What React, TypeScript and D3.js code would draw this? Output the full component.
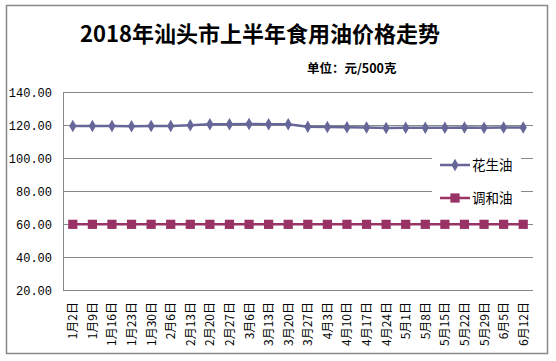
import { scaleBand, scaleLinear, line, symbol, symbolDiamond, symbolSquare } from 'd3';

const width = 556
const height = 361
const margin = { top: 92, right: 23, bottom: 71, left: 63 }

const dates = [
  '1月2日', '1月9日', '1月16日', '1月23日', '1月30日', '2月6日', '2月13日', '2月20日',
  '2月27日', '3月6日', '3月13日', '3月20日', '3月27日', '4月3日', '4月10日', '4月17日',
  '4月24日', '5月1日', '5月8日', '5月15日', '5月22日', '5月29日', '6月5日', '6月12日',
]
const peanutOil = [
  119.4, 119.4, 119.4, 119.3, 119.4, 119.4, 119.9, 120.5,
  120.4, 120.6, 120.5, 120.5, 118.9, 118.8, 118.6, 118.5,
  118.2, 118.3, 118.3, 118.4, 118.5, 118.3, 118.5, 118.5,
]
const blendOil = [
  59.8, 59.8, 59.8, 59.8, 59.8, 59.8, 59.8, 59.8,
  59.8, 59.8, 59.8, 59.8, 59.8, 59.8, 59.8, 59.8,
  59.8, 59.8, 59.8, 59.8, 59.8, 59.8, 59.8, 59.8,
]
const yTicks = [20, 40, 60, 80, 100, 120, 140]

const series = [
  { name: '花生油', values: peanutOil, color: '#666699', shape: symbolDiamond, size: 45 },
  { name: '调和油', values: blendOil, color: '#993366', shape: symbolSquare, size: 85 },
]

const x = scaleBand<string>()
  .domain(dates)
  .range([margin.left, width - margin.right])
const y = scaleLinear()
  .domain([20, 140])
  .range([height - margin.bottom, margin.top])

const cjk = '"Noto Sans CJK SC", sans-serif'

function App() {
  const xc = (d: string) => (x(d) ?? 0) + x.bandwidth() / 2

  return (
    <svg width={width} height={height} style={{ position: 'absolute', left: 0, top: 0 }}>
      <rect x={0} y={0} width={width} height={height} fill="#fff" />
      <rect x={6.5} y={5.5} width={541} height={348} fill="none" stroke="#888" strokeWidth={1.5} />

      <text x={260} y={42} textAnchor="middle" fontFamily={cjk} fontWeight="bold" fontSize={22} fill="#000">
        2018年汕头市上半年食用油价格走势
      </text>
      <text x={307} y={73} fontFamily={cjk} fontWeight="bold" fontSize={12.5} fill="#000">
        单位：元/500克
      </text>

      {/* gridlines */}
      {yTicks.map(t => (
        <line key={t} x1={margin.left} x2={width - margin.right} y1={Math.round(y(t)) + 0.5} y2={Math.round(y(t)) + 0.5} stroke="#888" />
      ))}
      <line x1={margin.left + 0.5} x2={margin.left + 0.5} y1={margin.top} y2={height - margin.bottom} stroke="#888" />

      {/* y labels */}
      {yTicks.map(t => (
        <text key={t} x={52} y={y(t) + 4.5} textAnchor="end" fontFamily='"Liberation Mono", monospace' fontSize={12} fill="#000">
          {t.toFixed(2)}
        </text>
      ))}

      {/* x labels */}
      {dates.map(d => (
        <text key={d} transform={`translate(${xc(d) + 4.5}, 302) rotate(-90)`} textAnchor="end" fontFamily={cjk} fontSize={12} fill="#000">
          {d}
        </text>
      ))}

      {/* legend */}
      <rect x={432} y={150} width={89} height={62} fill="#fff" />
      {series.map((s, i) => {
        const ly = 165 + i * 33
        return (
          <g key={s.name}>
            <line x1={440} x2={470} y1={ly} y2={ly} stroke={s.color} strokeWidth={2.5} />
            <path transform={`translate(455, ${ly})`} d={symbol(s.shape, s.size)() ?? ''} fill={s.color} />
            <text x={472} y={ly + 5} fontFamily={cjk} fontSize={13.5} fill="#000">{s.name}</text>
          </g>
        )
      })}

      {/* series */}
      {series.map(s => {
        const pts = s.values.map((v, i) => [xc(dates[i]), y(v)] as [number, number])
        return (
          <g key={s.name}>
            <path d={line()(pts) ?? ''} fill="none" stroke={s.color} strokeWidth={2.5} />
            {pts.map((p, i) => (
              <path key={i} transform={`translate(${p[0]}, ${p[1]})`} d={symbol(s.shape, s.size)() ?? ''} fill={s.color} />
            ))}
          </g>
        )
      })}
    </svg>
  )
}

export default App
